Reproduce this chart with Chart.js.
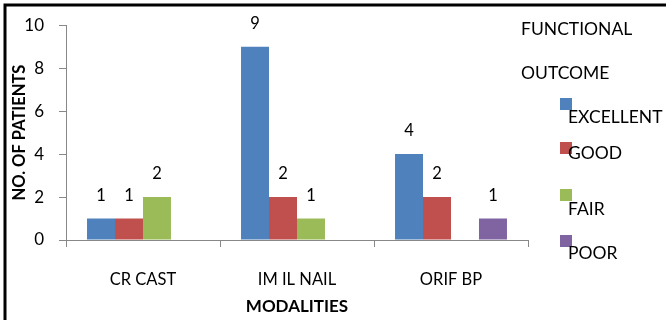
<!DOCTYPE html>
<html>
<head>
<meta charset="utf-8">
<script src="https://cdn.jsdelivr.net/npm/chart.js@4.4.0/dist/chart.umd.min.js"></script>
<style>
  body { margin: 0; background: #fff; }
</style>
</head>
<body>
<canvas id="chart1" width="666" height="320"></canvas>
<script>
// data
const modalities = ['CR CAST', 'IM IL NAIL', 'ORIF BP'];
const excellent = [1, 9, 4];
const good = [1, 2, 2];
const fair = [2, 1, 0];
const poor = [0, 0, 1];
const yTicks = [0, 2, 4, 6, 8, 10];
const legendTitle = ['FUNCTIONAL', 'OUTCOME'];

const FONT = 'Lato, "Open Sans", sans-serif';

// value labels above bars (zero values are not shown)
const valueLabels = {
    id: 'valueLabels',
    afterDatasetsDraw(chart) {
        const ctx = chart.ctx;
        ctx.save();
        ctx.font = '16.5px ' + FONT;
        ctx.fillStyle = '#000';
        ctx.textAlign = 'center';
        ctx.textBaseline = 'middle';
        chart.data.datasets.forEach((ds, i) => {
            chart.getDatasetMeta(i).data.forEach((bar, j) => {
                if (!ds.data[j]) return;
                ctx.fillText(ds.data[j], bar.x, bar.y - 23);
            });
        });
        ctx.restore();
    }
};

// legend on the right + frame lines
const sideLegend = {
    id: 'sideLegend',
    afterDraw(chart) {
        const ctx = chart.ctx;
        ctx.save();
        ctx.font = '17.5px ' + FONT;
        ctx.fillStyle = '#000';
        ctx.textAlign = 'left';
        ctx.textBaseline = 'middle';
        ctx.fillText(legendTitle[0], 521, 29);
        ctx.fillText(legendTitle[1], 521, 73);
        const boxY = [98, 142, 189, 235];
        const textY = [117, 153, 209, 253];
        chart.data.datasets.forEach((ds, i) => {
            ctx.fillStyle = ds.backgroundColor;
            ctx.fillRect(560, boxY[i], 12, 12);
            ctx.fillStyle = '#000';
            ctx.fillText(ds.label, 568, textY[i]);
        });
        // frame (left and top only)
        ctx.strokeStyle = '#000';
        ctx.lineWidth = 3;
        ctx.beginPath();
        ctx.moveTo(5, 320);
        ctx.lineTo(5, 5);
        ctx.lineTo(666, 5);
        ctx.stroke();
        ctx.restore();
    }
};

const ctx = document.getElementById('chart1').getContext('2d');
const chart1 = new Chart(ctx, {
    type: 'bar',
    data: {
        labels: modalities,
        datasets: [
            { label: 'EXCELLENT', data: excellent, backgroundColor: '#4F81BD' },
            { label: 'GOOD', data: good, backgroundColor: '#C0504D' },
            { label: 'FAIR', data: fair, backgroundColor: '#9BBB59' },
            { label: 'POOR', data: poor, backgroundColor: '#8064A2' }
        ]
    },
    options: {
        responsive: false,
        animation: false,
        layout: { padding: { left: 6, top: 23, right: 138, bottom: 0 } },
        datasets: {
            bar: { barPercentage: 1, categoryPercentage: 0.727 }
        },
        scales: {
            x: {
                grid: { drawOnChartArea: false, drawTicks: true, tickLength: 7, color: '#888', offset: true },
                border: { color: '#888' },
                ticks: { color: '#000', padding: 23, font: { family: FONT, size: 16.5 } },
                title: {
                    display: true,
                    text: 'MODALITIES',
                    color: '#000',
                    padding: { top: 0, bottom: 3 },
                    font: { family: FONT, size: 17, weight: 'bold' }
                },
                afterFit(scale) { scale.height = 80; }
            },
            y: {
                min: 0,
                max: 10,
                afterBuildTicks(scale) { scale.ticks = yTicks.map(v => ({ value: v })); },
                grid: { drawOnChartArea: false, drawTicks: true, tickLength: 7, color: '#888' },
                border: { color: '#888' },
                ticks: { color: '#000', padding: 15, font: { family: FONT, size: 17 } },
                title: {
                    display: true,
                    text: 'NO. OF PATIENTS',
                    color: '#000',
                    padding: { top: 4, bottom: 0 },
                    font: { family: FONT, size: 16.5, weight: 'bold' }
                },
                afterFit(scale) { scale.width = 60; }
            }
        },
        plugins: {
            legend: { display: false },
            tooltip: { enabled: false }
        }
    },
    plugins: [valueLabels, sideLegend]
});
</script>
</body>
</html>
